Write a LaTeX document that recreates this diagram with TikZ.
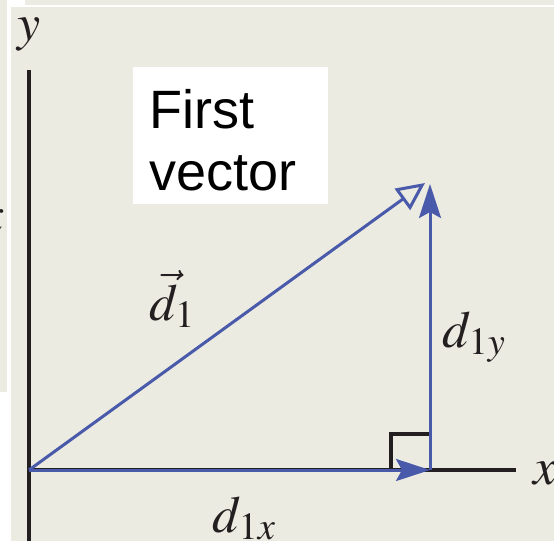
\documentclass[tikz,border=0pt]{standalone}
\usepackage{mathptmx}
\usepackage{fontspec}
\setsansfont{Liberation Sans}
\usetikzlibrary{arrows.meta}
\definecolor{vecblue}{HTML}{4A5AAA}
\definecolor{panel}{HTML}{ECEBE1}
\definecolor{ink}{HTML}{231F20}

\begin{document}
\begin{tikzpicture}[
  x=1pt, y=-1pt,
  axis/.style={draw=ink, line width=3.4pt},
  vec/.style={draw=vecblue, line width=3pt},
  tipfull/.style={-{Stealth[length=34pt, width=22pt, inset=6pt]}},
  tipopen/.style={-{Triangle[open, length=28pt, width=26pt]}},
  mlabel/.style={font=\fontsize{52}{56}\selectfont, inner sep=0pt, text=ink},
  tag/.style={fill=white, font=\sffamily\fontsize{54}{62}\selectfont, align=left, text width=163pt, inner xsep=16pt, inner ysep=13pt, text=black},
]
  \useasboundingbox (0,0) rectangle (554,541);
  \fill[white] (0,0) rectangle (554,541);
  % neighbouring panels
  \fill[panel] (0,0) rectangle (7,392);
  \fill[panel] (25,0) rectangle (554,5);
  \fill[panel] (11,7) rectangle (554,541);
  \begin{scope}
    \clip (0,0) rectangle (7,392);
    \node[mlabel, anchor=base east] (xcut) at (4,232) {$x$};
  \end{scope}

  \coordinate (O) at (29,470);
  \coordinate (ytop) at (29,70);
  \coordinate (yend) at (29,541);
  \coordinate (xend) at (516,470);
  \coordinate (P) at (430,470);
  \coordinate (Q) at (430,184);
  \coordinate (R) at (425,183);
  \coordinate (ra1) at (391,470);
  \coordinate (ra2) at (430,434);

  \node[tag, anchor=north west] (note) at (133,67) {\rule{0pt}{48pt}First\\vector};

  % axes
  \draw[axis] (ytop) -- (yend);
  \draw[axis] (O) -- (xend);
  \draw[axis] (ra1) |- (ra2);
  \node[mlabel, anchor=base] (ylab) at (29,40) {$y$};
  \node[mlabel, anchor=base west] (xlab) at (533,484) {$x$};

  % vectors
  \draw[vec, tipfull] (O) -- (P);
  \draw[vec, tipfull] (P) -- (Q);
  \draw[vec, tipopen] (O) -- (R);

  \node[mlabel, anchor=base] (d1) at (172,320) {$\vec{d}_1$};
  \node[mlabel, anchor=base] (d1y) at (474,347) {$d_{1y}$};
  \node[mlabel, anchor=base] (d1x) at (244,532) {$d_{1x}$};
\end{tikzpicture}
\end{document}
